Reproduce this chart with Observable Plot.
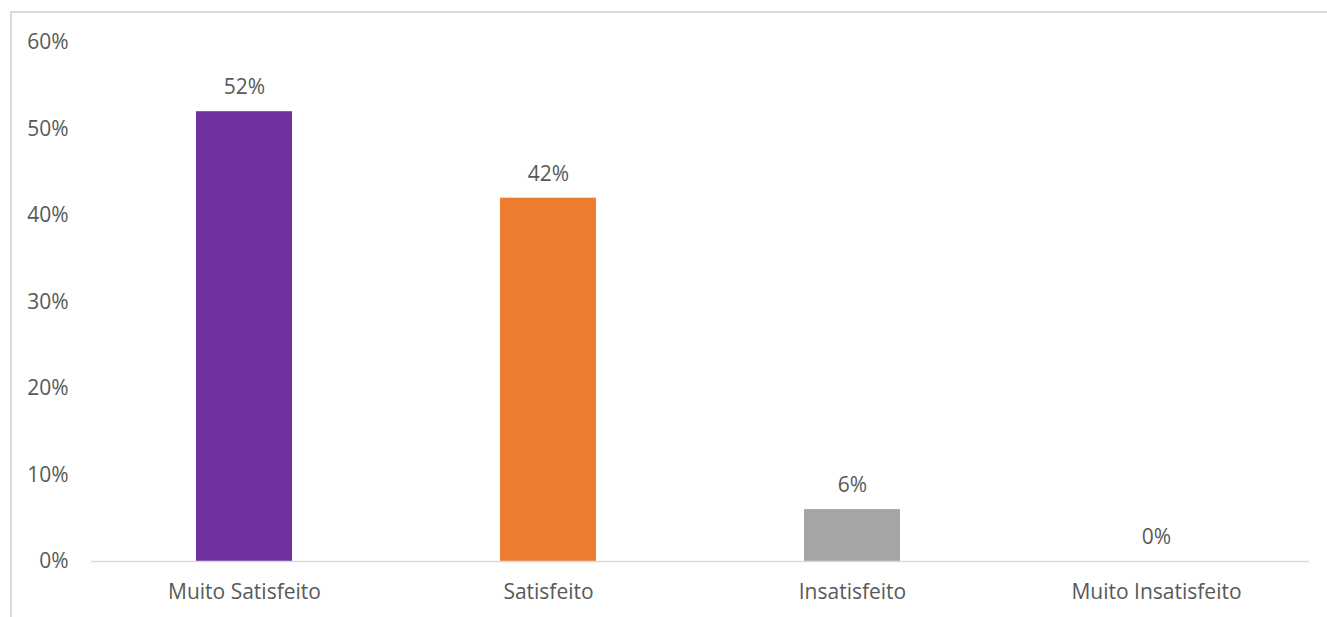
<!DOCTYPE html>
<html>
<head>
<meta charset="utf-8">
<script src="https://cdn.jsdelivr.net/npm/d3@7"></script>
<script src="https://cdn.jsdelivr.net/npm/@observablehq/plot@0.6"></script>
<style>
  html, body { margin: 0; padding: 0; background: #fff; overflow: hidden; }
  #wrap { position: relative; width: 1327px; height: 617px; overflow: hidden; }
  #frame { position: absolute; left: 10px; top: 11px; width: 1317px; height: 606px; border-top: 2px solid #d9d9d9; border-left: 2px solid #d9d9d9; box-sizing: border-box; }
  #chart { position: absolute; left: 0; top: 0; }
  #chart svg text { fill: #595959; }
</style>
</head>
<body>
<div id="wrap"><div id="frame"></div><div id="chart"></div></div>
<script>
const categories = ["Muito Satisfeito", "Satisfeito", "Insatisfeito", "Muito Insatisfeito"];
const values = [0.52, 0.42, 0.06, 0.0];
const colors = ["#7030A0", "#ED7D31", "#A5A5A5", "#4472C4"];
const yTicks = [0, 0.1, 0.2, 0.3, 0.4, 0.5, 0.6];

const data = categories.map((c, i) => ({category: c, value: values[i], color: colors[i]}));
const pct = d => `${Math.round(d * 100)}%`;

const chart = Plot.plot({
  width: 1327,
  height: 617,
  marginLeft: 91,
  marginRight: 18,
  marginTop: 42,
  marginBottom: 56,
  style: {fontFamily: "'Open Sans', sans-serif", fontSize: "21px", color: "#595959", background: "transparent"},
  x: {domain: categories, paddingInner: 0.685, paddingOuter: 0.3425, label: null},
  y: {domain: [0, 0.6], label: null},
  marks: [
    Plot.barY(data, {x: "category", y: "value", fill: "color"}),
    Plot.ruleY([0], {stroke: "#d9d9d9", strokeWidth: 1.5}),
    Plot.text(data, {x: "category", y: "value", text: d => pct(d.value), dy: -24}),
    Plot.axisY({ticks: yTicks, tickFormat: pct, tickSize: 0, tickPadding: 23, label: null}),
    Plot.axisX({tickSize: 0, tickPadding: 23, label: null})
  ]
});
document.getElementById("chart").appendChild(chart);
</script>
</body>
</html>
